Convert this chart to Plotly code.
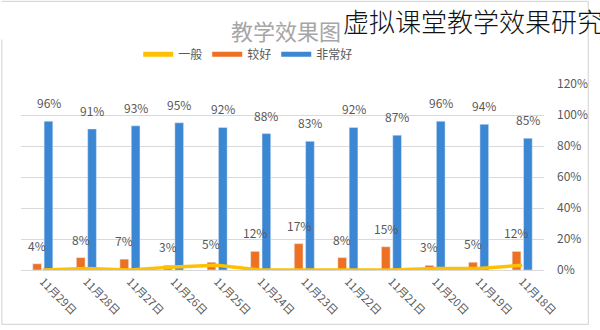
import plotly.graph_objects as go

# 每日评价数据（百分比）
dates = ["11月18日", "11月19日", "11月20日", "11月21日", "11月22日", "11月23日",
         "11月24日", "11月25日", "11月26日", "11月27日", "11月28日", "11月29日"]
very_good = [85, 94, 96, 87, 92, 83, 88, 92, 95, 93, 91, 96]
good = [12, 5, 3, 15, 8, 17, 12, 5, 3, 7, 8, 4]
average = [3, 1, 1, 0, 0, 0, 0, 3, 2, 0, 1, 0]
y_ticks = [0, 20, 40, 60, 80, 100, 120]
y_tick_labels = [f"{t}%" for t in y_ticks]

BLUE = "#3c87d4"
ORANGE = "#ee7023"
YELLOW = "#ffc000"
GRID = "#d9d9d9"
TXT = "#595959"
FONT = "Noto Sans CJK SC"

W, H = 600, 330
ML, MR, MT, MB = 21, 48, 84, 58
PW, PH = W - ML - MR, H - MT - MB


def px_x(x):
    return (x - ML) / PW


def px_y(y):
    return (H - MB - y) / PH


BAR_W = 0.2
SHIFT = 0.13

fig = go.Figure()

fig.add_trace(go.Bar(
    x=dates, y=very_good, name="非常好", marker_color=BLUE,
    width=BAR_W, offset=-SHIFT - BAR_W / 2, showlegend=False,
))
fig.add_trace(go.Bar(
    x=dates, y=good, name="较好", marker_color=ORANGE,
    width=BAR_W, offset=SHIFT - BAR_W / 2, showlegend=False,
))
fig.add_trace(go.Scatter(
    x=dates, y=average, name="一般", mode="lines",
    line=dict(color=YELLOW, width=3.5), showlegend=False,
))

# 图例条目（宽色条）
for name, color in [("一般", YELLOW), ("较好", ORANGE), ("非常好", BLUE)]:
    fig.add_trace(go.Scatter(
        x=[None], y=[None], mode="lines", name=name,
        line=dict(color=color, width=5), showlegend=True,
    ))

# 数据标签
shift_px = SHIFT * PW / len(dates)
for d, v in zip(dates, very_good):
    fig.add_annotation(x=d, y=v, text=f"{v}%", showarrow=False, yanchor="bottom",
                       xshift=shift_px, yshift=8, font=dict(size=12, color=TXT))
for d, v in zip(dates, good):
    fig.add_annotation(x=d, y=v, text=f"{v}%", showarrow=False, yanchor="bottom",
                       xshift=-shift_px, yshift=8, font=dict(size=12, color=TXT))

# 标题
fig.add_annotation(xref="paper", yref="paper", x=px_x(290), y=px_y(29),
                   text="教学效果图", showarrow=False, xanchor="center", yanchor="middle",
                   font=dict(size=22, color="#a6a6a6"))
fig.add_annotation(xref="paper", yref="paper", x=px_x(346), y=px_y(20),
                   text="虚拟课堂教学效果研究", showarrow=False, xanchor="left", yanchor="middle",
                   font=dict(size=26, color="#111111", weight=300))

# 外框
frame = dict(type="line", xref="paper", yref="paper", line=dict(color=GRID, width=1.2))
fig.add_shape(**frame, x0=px_x(1.5), x1=px_x(597), y0=px_y(0.5), y1=px_y(0.5))
fig.add_shape(**frame, x0=px_x(597), x1=px_x(597), y0=px_y(0.5), y1=px_y(327))
fig.add_shape(**frame, x0=px_x(1.5), x1=px_x(597), y0=px_y(327), y1=px_y(327))
fig.add_shape(**frame, x0=px_x(1.5), x1=px_x(1.5), y0=px_y(39), y1=px_y(327))

fig.update_layout(
    width=W, height=H,
    margin=dict(l=ML, r=MR, t=MT, b=MB, pad=0),
    paper_bgcolor="white", plot_bgcolor="white",
    font=dict(family=FONT, color=TXT),
    barmode="overlay",
    legend=dict(orientation="h", x=px_x(140), y=px_y(54), xanchor="left", yanchor="middle",
                font=dict(size=12, color=TXT), itemwidth=30, bgcolor="rgba(0,0,0,0)"),
    xaxis=dict(
        type="category", autorange="reversed", tickangle=45,
        tickfont=dict(size=11, color=TXT), showgrid=False,
        showline=True, linecolor=GRID, linewidth=1, ticks="",
    ),
    yaxis=dict(
        side="right", range=[0, 120], tickmode="array",
        tickvals=y_ticks, ticktext=y_tick_labels,
        tickfont=dict(size=12, color=TXT), gridcolor=GRID, gridwidth=1,
        zeroline=False, showline=False, ticklabelstandoff=12,
    ),
)

fig.write_html("out.html")
